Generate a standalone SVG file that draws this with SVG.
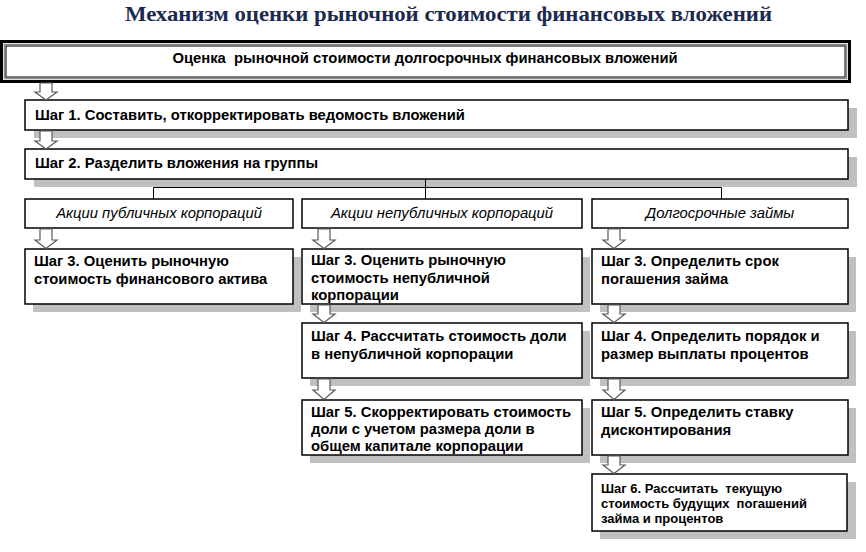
<svg xmlns="http://www.w3.org/2000/svg" width="866" height="552" viewBox="0 0 866 552">
<style>
.bg{fill:#ffffff}
.shadow{fill:#c0c0c0}
.box{fill:#ffffff;stroke:#000000;stroke-width:1.5}
.t{font-family:"Liberation Sans",Arial,sans-serif;font-size:14.8px;font-weight:bold;fill:#000000;white-space:pre}
.ts{font-family:"Liberation Sans",Arial,sans-serif;font-size:13px;font-weight:bold;fill:#000000;white-space:pre}
.ti{font-family:"Liberation Sans",Arial,sans-serif;font-size:14.8px;font-style:italic;fill:#000000;text-anchor:middle}
.title{font-family:"Liberation Serif","Times New Roman",serif;font-size:21px;font-weight:bold;fill:#1b2a4e}
.arrow{fill:#ffffff;stroke:#5a5a5a;stroke-width:1.2;stroke-linejoin:miter}
.line{fill:none;stroke:#000000;stroke-width:1}
</style>
<rect class="bg" x="0" y="0" width="866" height="552"/>
<text class="title" x="125" y="21" textLength="647" lengthAdjust="spacingAndGlyphs">Механизм оценки рыночной стоимости финансовых вложений</text>

<g id="top">
<rect x="1.5" y="41.5" width="848" height="40" fill="#ffffff" stroke="#000000" stroke-width="3"/>
<rect x="4.5" y="44.5" width="842" height="34" fill="none" stroke="#8a8a8a" stroke-width="1.5"/>
<rect x="6" y="46" width="839" height="31" fill="none" stroke="#000000" stroke-width="1"/>
<text class="t" x="425" y="63" text-anchor="middle">Оценка  рыночной стоимости долгосрочных финансовых вложений</text>
</g>

<g id="step1">
<rect class="shadow" x="34" y="108" width="823" height="30"/>
<rect class="box" x="25" y="100" width="823" height="30"/>
<text class="t" x="35" y="120">Шаг 1. Составить, откорректировать ведомость вложений</text>
</g>

<g id="step2">
<rect class="shadow" x="34" y="157" width="823" height="30"/>
<rect class="box" x="25" y="149" width="823" height="30"/>
<text class="t" x="35" y="168">Шаг 2. Разделить вложения на группы</text>
</g>

<g id="connectors">
<path class="line" d="M425.5 179 V199 M153.5 187.5 H721.5 M153.5 187.5 V199 M721.5 187.5 V199"/>
</g>

<g id="group1">
<rect class="box" x="25" y="199" width="268" height="29"/>
<text class="ti" x="159" y="218">Акции публичных корпораций</text>
</g>
<g id="group2">
<rect class="box" x="302" y="199" width="280" height="29"/>
<text class="ti" x="442" y="218">Акции непубличных корпораций</text>
</g>
<g id="group3">
<rect class="box" x="592" y="199" width="256" height="29"/>
<text class="ti" x="720" y="218">Долгосрочные займы</text>
</g>

<g id="step3a">
<rect class="shadow" x="33" y="257" width="268" height="55"/>
<rect class="box" x="25" y="249" width="268" height="55"/>
<text class="t" x="34" y="266">Шаг 3. Оценить рыночную</text>
<text class="t" x="34" y="284">стоимость финансового актива</text>
</g>
<g id="step3b">
<rect class="shadow" x="310" y="257" width="280" height="55"/>
<rect class="box" x="302" y="249" width="280" height="55"/>
<text class="t" x="311" y="265">Шаг 3. Оценить рыночную</text>
<text class="t" x="311" y="283">стоимость непубличной</text>
<text class="t" x="311" y="300">корпорации</text>
</g>
<g id="step3c">
<rect class="shadow" x="600" y="257" width="256" height="55"/>
<rect class="box" x="592" y="249" width="256" height="55"/>
<text class="t" x="601" y="266">Шаг 3. Определить срок</text>
<text class="t" x="601" y="284">погашения займа</text>
</g>

<g id="step4b">
<rect class="shadow" x="310" y="331" width="280" height="55"/>
<rect class="box" x="302" y="323" width="280" height="55"/>
<text class="t" x="311" y="341">Шаг 4. Рассчитать стоимость доли</text>
<text class="t" x="311" y="359">в непубличной корпорации</text>
</g>
<g id="step4c">
<rect class="shadow" x="600" y="331" width="256" height="55"/>
<rect class="box" x="592" y="323" width="256" height="55"/>
<text class="t" x="601" y="341">Шаг 4. Определить порядок и</text>
<text class="t" x="601" y="359">размер выплаты процентов</text>
</g>

<g id="step5b">
<rect class="shadow" x="310" y="408" width="280" height="55"/>
<rect class="box" x="302" y="400" width="280" height="55"/>
<text class="t" x="311" y="417">Шаг 5. Скорректировать стоимость</text>
<text class="t" x="311" y="434">доли с учетом размера доли в</text>
<text class="t" x="311" y="451">общем капитале корпорации</text>
</g>
<g id="step5c">
<rect class="shadow" x="600" y="408" width="256" height="55"/>
<rect class="box" x="592" y="400" width="256" height="55"/>
<text class="t" x="601" y="417">Шаг 5. Определить ставку</text>
<text class="t" x="601" y="435">дисконтирования</text>
</g>

<g id="step6c">
<rect class="shadow" x="600" y="482" width="256" height="57"/>
<rect class="box" x="592" y="474" width="255" height="57"/>
<text class="ts" x="601" y="493">Шаг 6. Рассчитать  текущую</text>
<text class="ts" x="601" y="508">стоимость будущих  погашений</text>
<text class="ts" x="601" y="523">займа и процентов</text>
</g>

<g id="arrows">
<path class="arrow" d="M40 83 V92 H35 L46 100 L57 92 H52 V83 Z"/>
<path class="arrow" d="M40 131 V141 H35 L46 149 L57 141 H52 V131 Z"/>
<path class="arrow" d="M40 229 V240 H35 L46 248.5 L57 240 H52 V229 Z"/>
<path class="arrow" d="M318 229 V240 H313 L324 248.5 L335 240 H330 V229 Z"/>
<path class="arrow" d="M608 229 V240 H603 L614 248.5 L625 240 H620 V229 Z"/>
<path class="arrow" d="M318 305 V314 H313 L324 322.5 L335 314 H330 V305 Z"/>
<path class="arrow" d="M608 305 V314 H603 L614 322.5 L625 314 H620 V305 Z"/>
<path class="arrow" d="M318 379 V390 H313 L324 399.5 L335 390 H330 V379 Z"/>
<path class="arrow" d="M608 379 V390 H603 L614 399.5 L625 390 H620 V379 Z"/>
<path class="arrow" d="M608 456 V465 H603 L614 473.5 L625 465 H620 V456 Z"/>
</g>
</svg>
